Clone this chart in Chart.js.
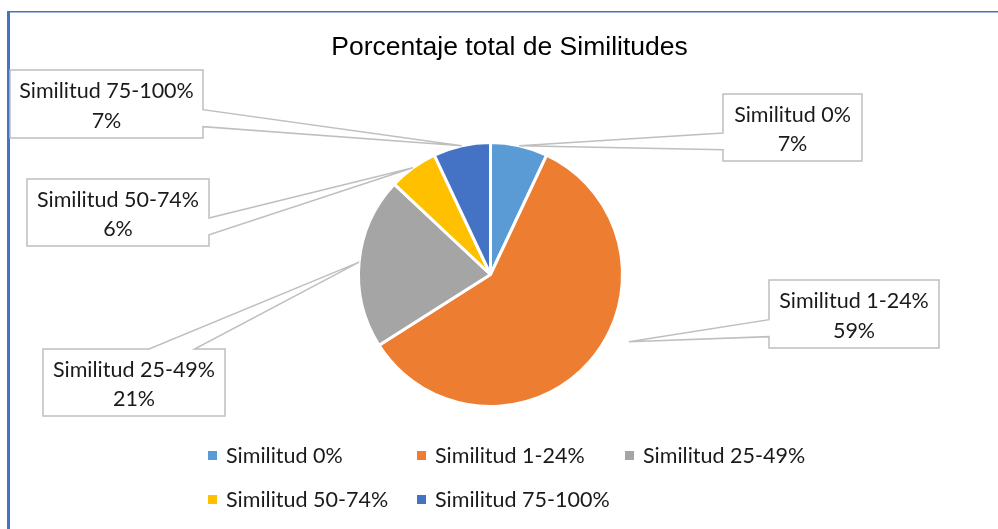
<!DOCTYPE html>
<html><head><meta charset="utf-8">
<script src="https://cdn.jsdelivr.net/npm/chart.js@4.4.0/dist/chart.umd.min.js"></script>
<style>html,body{margin:0;padding:0;background:#fff;overflow:hidden}</style>
</head><body>
<canvas id="c" width="998" height="529" style="display:block;width:998px;height:529px"></canvas>
<script>
const chartTitle = 'Porcentaje total de Similitudes';
const categories = ['Similitud 0%', 'Similitud 1-24%', 'Similitud 25-49%', 'Similitud 50-74%', 'Similitud 75-100%'];
const values = [7, 59, 21, 6, 7];
const sliceColors = ['#5B9BD5', '#ED7D31', '#A5A5A5', '#FFC000', '#4472C4'];

// Callout box layout (style only), one per category
const calloutLayout = [
  {x: 723, y: 94,  w: 139, h: 67, side: 'left',  anchorFrac: 0.5,   anchorScale: 1.0},
  {x: 769, y: 280, w: 170, h: 68, side: 'left',  anchorFrac: 0.427, anchorScale: 1.165},
  {x: 43,  y: 349, w: 182, h: 67, side: 'top',   anchorFrac: 0.5,   anchorScale: 1.0},
  {x: 27,  y: 179, w: 182, h: 67, side: 'right', anchorFrac: 0.5,   anchorScale: 1.0},
  {x: 10,  y: 70,  w: 193, h: 68, side: 'right', anchorFrac: 0.5,   anchorScale: 1.0}
];
const LABEL_FONT = '21.5px Lato';
const TEXT_COLOR = '#1a1a1a';

function calloutPath(ctx, b, ax, ay) {
  const f1 = 0.583, f2 = 0.833;
  const {x, y, w, h} = b;
  ctx.beginPath();
  if (b.side === 'left') {
    ctx.moveTo(x, y); ctx.lineTo(x + w, y); ctx.lineTo(x + w, y + h); ctx.lineTo(x, y + h);
    ctx.lineTo(x, y + h * f2); ctx.lineTo(ax, ay); ctx.lineTo(x, y + h * f1); ctx.closePath();
  } else if (b.side === 'right') {
    ctx.moveTo(x, y); ctx.lineTo(x + w, y); ctx.lineTo(x + w, y + h * f1); ctx.lineTo(ax, ay);
    ctx.lineTo(x + w, y + h * f2); ctx.lineTo(x + w, y + h); ctx.lineTo(x, y + h); ctx.closePath();
  } else {
    ctx.moveTo(x, y); ctx.lineTo(x + w * f1, y); ctx.lineTo(ax, ay); ctx.lineTo(x + w * f2, y);
    ctx.lineTo(x + w, y); ctx.lineTo(x + w, y + h); ctx.lineTo(x, y + h); ctx.closePath();
  }
}

const decor = {
  id: 'decor',
  beforeDraw(chart) {
    const ctx = chart.ctx;
    ctx.save();
    ctx.fillStyle = '#fff';
    ctx.fillRect(0, 0, chart.width, chart.height);
    ctx.fillStyle = '#4472C4';
    ctx.fillRect(7, 11, 3, chart.height - 11);
    ctx.fillRect(7, 11, chart.width - 7, 1.5);
    ctx.restore();
  },
  afterDraw(chart) {
    const ctx = chart.ctx;
    const meta = chart.getDatasetMeta(0);
    ctx.save();
    // title
    ctx.fillStyle = '#000';
    ctx.font = '26.5px "Liberation Sans", Arial, sans-serif';
    ctx.textAlign = 'center';
    ctx.textBaseline = 'alphabetic';
    ctx.fillText(chartTitle, 509.5, 55);

    // callouts
    const total = values.reduce((a, b) => a + b, 0);
    meta.data.forEach((arc, i) => {
      const p = arc.getProps(['x', 'y', 'startAngle', 'endAngle', 'outerRadius'], true);
      const L = calloutLayout[i];
      const ang = p.startAngle + (p.endAngle - p.startAngle) * L.anchorFrac;
      const r = p.outerRadius * L.anchorScale;
      const ax = p.x + Math.cos(ang) * r, ay = p.y + Math.sin(ang) * r;
      calloutPath(ctx, L, ax, ay);
      ctx.fillStyle = '#fff';
      ctx.fill();
      ctx.strokeStyle = '#BFBFBF';
      ctx.lineWidth = 1.5;
      ctx.lineJoin = 'miter';
      ctx.stroke();
      ctx.fillStyle = TEXT_COLOR;
      ctx.font = LABEL_FONT;
      ctx.textAlign = 'center';
      ctx.textBaseline = 'middle';
      const cx = L.x + L.w / 2;
      ctx.fillText(categories[i], cx, L.y + L.h * 0.31);
      ctx.fillText(Math.round(values[i] / total * 100) + '%', cx, L.y + L.h * 0.75);
    });

    // legend
    const colX = [208, 417, 625];
    const rowY = [456, 500];
    categories.forEach((c, i) => {
      const col = i % 3, row = Math.floor(i / 3);
      const x = colX[col], y = rowY[row];
      ctx.fillStyle = sliceColors[i];
      ctx.fillRect(x, y - 5, 9, 9);
      ctx.fillStyle = TEXT_COLOR;
      ctx.font = LABEL_FONT;
      ctx.textAlign = 'left';
      ctx.textBaseline = 'middle';
      ctx.fillText(c, x + 18, y);
    });
    ctx.restore();
  }
};

new Chart(document.getElementById('c'), {
  type: 'pie',
  data: {
    labels: categories,
    datasets: [{
      data: values,
      backgroundColor: sliceColors,
      borderColor: '#ffffff',
      borderWidth: 3
    }]
  },
  options: {
    responsive: false,
    devicePixelRatio: 1,
    animation: false,
    layout: {padding: {left: 357, right: 374, top: 141, bottom: 121}},
    plugins: {
      legend: {display: false},
      title: {display: false},
      tooltip: {enabled: false}
    }
  },
  plugins: [decor]
});
</script>
</body></html>
